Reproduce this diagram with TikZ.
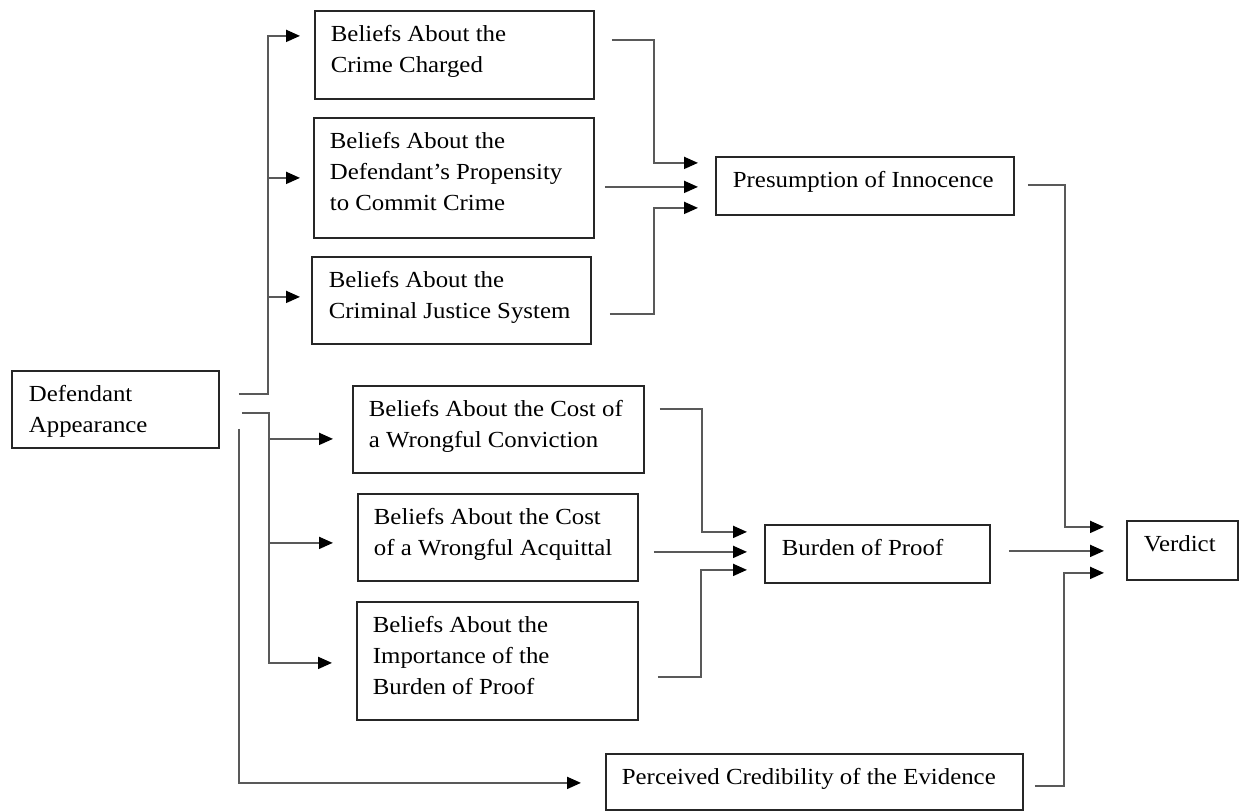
\documentclass[tikz,border=0pt]{standalone}
\usepackage{fontspec}
\setmainfont{Liberation Serif}[FakeStretch=1.08]
\usetikzlibrary{arrows.meta,calc}
\newcommand\boxtext[4]{\begin{minipage}[t][#2][t]{#1}\fontsize{23}{31}\selectfont\raggedright\leftskip=#3\relax\noindent\rule{0pt}{31pt}#4\end{minipage}}
\tikzset{
  bx/.style={draw=black!85, line width=1.8pt, inner sep=0pt, anchor=north west},
  conn/.style={draw=black!65, line width=1.9pt, -{Triangle[length=14pt,width=12pt,color=black]}},
}
\begin{document}
\begin{tikzpicture}[x=1pt,y=-1pt]
\useasboundingbox (0,0) rectangle (1239,811);
% boxes
\node[bx] (def) at (11,370) {\boxtext{207pt}{77pt}{17pt}{Defendant\\Appearance}};
\node[bx] (b1) at (314,10) {\boxtext{279pt}{88pt}{16pt}{Beliefs About the\\Crime Charged}};
\node[bx] (b2) at (313,117) {\boxtext{280pt}{120pt}{16pt}{Beliefs About the\\Defendant’s Propensity\\to Commit Crime}};
\node[bx] (b3) at (311,256) {\boxtext{279pt}{87pt}{17pt}{Beliefs About the\\Criminal Justice System}};
\node[bx] (pres) at (715,156) {\boxtext{298pt}{58pt}{17pt}{Presumption of Innocence}};
\node[bx] (b4) at (352,385) {\boxtext{291pt}{87pt}{16pt}{Beliefs About the Cost of\\a Wrongful Conviction}};
\node[bx] (b5) at (357,493) {\boxtext{280pt}{87pt}{16pt}{Beliefs About the Cost\\of a Wrongful Acquittal}};
\node[bx] (b6) at (356,601) {\boxtext{281pt}{118pt}{16pt}{Beliefs About the\\Importance of the\\Burden of Proof}};
\node[bx] (burden) at (764,524) {\boxtext{225pt}{58pt}{17pt}{Burden of Proof}};
\node[bx] (verdict) at (1126,520) {\boxtext{111pt}{59pt}{17pt}{Verdict}};
\node[bx] (perc) at (605,753) {\boxtext{417pt}{56pt}{16pt}{Perceived Credibility of the Evidence}};
% free starts from Defendant Appearance
\coordinate (s1) at ($(def.east)+(19,-15.5)$);
\coordinate (s2) at ($(def.east)+(22,3.5)$);
\coordinate (s3) at ($(def.east)+(19,19.5)$);
% left tree 1
\draw[conn] (s1) -| ($(b1.west)+(-46,-19)$) -- ($(b1.west)+(-14,-19)$);
\draw[conn] ($(b2.west)+(-45,0)$) -- ($(b2.west)+(-13,0)$);
\draw[conn] ($(b3.west)+(-43,-3.5)$) -- ($(b3.west)+(-11,-3.5)$);
% left tree 2
\draw[conn] (s2) -| ($(b6.west)+(-87,2)$) -- ($(b6.west)+(-24,2)$);
\draw[conn] ($(b4.west)+(-83,9.5)$) -- ($(b4.west)+(-19,9.5)$);
\draw[conn] ($(b5.west)+(-88,5.5)$) -- ($(b5.west)+(-24,5.5)$);
% left tree 3
\draw[conn] (s3) |- ($(perc.west)+(-24,1)$);
% into Presumption
\draw[conn] ($(b1.east)+(17,-15)$) -| ($(pres.west)+(-61,-23)$) -- ($(pres.west)+(-17,-23)$);
\draw[conn] ($(b2.east)+(10,9)$) -- ($(pres.west)+(-17,1)$);
\draw[conn] ($(b3.east)+(18,13.5)$) -| ($(pres.west)+(-61,22)$) -- ($(pres.west)+(-17,22)$);
% into Burden
\draw[conn] ($(b4.east)+(15,-20.5)$) -| ($(burden.west)+(-62,-22)$) -- ($(burden.west)+(-17,-22)$);
\draw[conn] ($(b5.east)+(15,14.5)$) -- ($(burden.west)+(-17,-2)$);
\draw[conn] ($(b6.east)+(19,16)$) -| ($(burden.west)+(-63,16)$) -- ($(burden.west)+(-17,16)$);
% into Verdict
\draw[conn] ($(pres.east)+(13,-1)$) -| ($(verdict.west)+(-61,-23.5)$) -- ($(verdict.west)+(-22,-23.5)$);
\draw[conn] ($(burden.east)+(18,-3)$) -- ($(verdict.west)+(-22,0.5)$);
\draw[conn] ($(perc.east)+(11,4)$) -| ($(verdict.west)+(-62,22.5)$) -- ($(verdict.west)+(-22,22.5)$);
\end{tikzpicture}
\end{document}
